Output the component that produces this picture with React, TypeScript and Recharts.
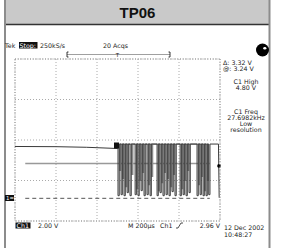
import React from 'react';
import { LineChart, Line, XAxis, YAxis, CartesianGrid, ReferenceLine, ReferenceDot } from 'recharts';

// time in µs (trigger at 0, 200 µs/div), level in divisions (2 V/div)
const xTicks = [-1000, -800, -600, -400, -200, 0, 200, 400, 600, 800, 1000];
const yTicks = [-4, -3, -2, -1, 0, 1, 2, 3, 4];

const highLevel = -0.2;
const groundLevel = -2.88;
const cursorLevel = -1.16;
const cursorStart = -900;
const cursorEnd = 900;
const markerTime = 990;
const markerLevel = -1.28;

const preTimes = [-1000, -600, -300, 0];
const preLevels = [-0.32, -0.33, -0.36, -0.42];

const pulseFalls = [5, 35, 64, 94, 122, 172, 200, 230, 259, 288, 318, 386, 415, 444, 474, 503, 532, 561, 611, 640, 669, 698, 776, 806, 835, 864, 890];
const pulseRises = [17, 47, 76, 106, 134, 184, 212, 242, 271, 300, 330, 398, 427, 456, 486, 515, 544, 573, 623, 652, 681, 710, 788, 818, 847, 876, 902];
const pulseLows = [-2.75, -2.7, -2.75, -2.6, -2.75, -2.7, -2.75, -2.5, -2.75, -2.7, -2.75, -2.75, -2.6, -2.75, -2.7, -2.75, -2.55, -2.75, -2.75, -2.7, -2.75, -2.6, -2.75, -2.7, -2.75, -2.75, -2.7];

const ghostFalls = [20, 50, 80, 140, 188, 218, 246, 305, 335, 400, 432, 460, 490, 520, 548, 628, 656, 686, 792, 822, 850, 878];
const ghostRises = [30, 60, 90, 150, 196, 226, 254, 313, 343, 408, 440, 468, 498, 528, 556, 636, 664, 694, 800, 830, 858, 886];
const ghostLows = [-1.5, -1.9, -2.3, -1.7, -2.4, -2.0, -1.6, -2.2, -1.8, -2.5, -2.1, -1.6, -1.9, -2.3, -1.7, -2.4, -2.0, -1.5, -2.2, -1.8, -2.5, -2.0];

const tailTimes = [902, 985, 992];
const tailLevels = [highLevel, highLevel, -2.85];

const steps = (falls: number[], rises: number[], lows: number[]) =>
  falls.flatMap((f, i) => [
    { t: f, v: highLevel },
    { t: f, v: lows[i] },
    { t: rises[i], v: lows[i] },
    { t: rises[i], v: highLevel },
  ]);

const trace = [
  ...preTimes.map((t, i) => ({ t, v: preLevels[i] })),
  ...steps(pulseFalls, pulseRises, pulseLows),
  ...tailTimes.map((t, i) => ({ t, v: tailLevels[i] })),
];
const ghost = steps(ghostFalls, ghostRises, ghostLows);

const txt = { fontFamily: 'DejaVu Sans', fontSize: 6.3, fill: '#222' };

const Overlay = () => (
  <svg width={288} height={248} style={{ position: 'absolute', left: 0, top: 0, pointerEvents: 'none' }}>
    <rect x={6} y={0} width={263} height={24} fill="#c9c9c9" />
    <line x1={6} x2={269} y1={24.5} y2={24.5} stroke="#333" strokeWidth={1.5} />
    <rect x={4} y={0} width={2} height={248} fill="#8c8c8c" />
    <rect x={268.5} y={0} width={2} height={248} fill="#8c8c8c" />
    <text x={137.5} y={18} textAnchor="middle" fontFamily="Liberation Sans" fontWeight="bold" fontSize={15} fill="#111">TP06</text>

    <text x={5} y={47.5} {...txt}>Tek</text>
    <rect x={19} y={42} width={18.5} height={6.5} fill="#111" />
    <text x={19.5} y={47.5} {...txt} fill="#fff">Stop:</text>
    <text x={40} y={47.5} {...txt}>250kS/s</text>
    <text x={103} y={47.5} {...txt}>20 Acqs</text>

    <line x1={67} x2={170} y1={54.5} y2={54.5} stroke="#888" strokeWidth={0.8} />
    <path d="M68.5 52 H67 V57 H68.5 M168.5 52 H170 V57 H168.5" stroke="#222" fill="none" strokeWidth={0.9} />
    <text x={117.5} y={57} textAnchor="middle" {...txt} fontSize={5.5}>T</text>

    <circle cx={262.5} cy={50} r={6.5} fill="#000" />
    <ellipse cx={264.8} cy={48.3} rx={1.6} ry={1.2} fill="#fff" />

    <rect x={15} y={59} width={205} height={162} fill="none" stroke="#999" strokeDasharray="1 1.5" />

    <rect x={114} y={142.5} width={5} height={6} fill="#111" />
    <rect x={5} y={195} width={9} height={6} fill="#111" />
    <text x={6} y={200.3} {...txt} fontSize={5.5} fill="#fff">1=</text>

    <text x={223} y={65} {...txt}>Δ: 3.32 V</text>
    <text x={223} y={70.5} {...txt}>@: 3.24 V</text>
    <text x={246} y={84} textAnchor="middle" {...txt}>C1 High</text>
    <text x={246} y={90} textAnchor="middle" {...txt}>4.80 V</text>
    <text x={246} y={114} textAnchor="middle" {...txt}>C1 Freq</text>
    <text x={246} y={120} textAnchor="middle" {...txt}>27.6982kHz</text>
    <text x={246} y={126} textAnchor="middle" {...txt}>Low</text>
    <text x={246} y={132} textAnchor="middle" {...txt}>resolution</text>

    <rect x={15.5} y={222.5} width={15} height={6} fill="#111" />
    <text x={16.5} y={227.8} {...txt} fill="#fff">Ch1</text>
    <text x={38} y={228} {...txt}>2.00 V</text>
    <text x={128} y={228} {...txt}>M 200µs</text>
    <text x={160} y={228} {...txt}>Ch1</text>
    <path d="M176 228 H178 L181 223 H183" stroke="#222" fill="none" strokeWidth={0.8} />
    <text x={220} y={228} textAnchor="end" {...txt}>2.96 V</text>
    <text x={224} y={229.5} {...txt}>12 Dec 2002</text>
    <text x={224} y={237} {...txt}>10:48:27</text>
  </svg>
);

export default function App() {
  return (
    <div style={{ position: 'absolute', left: 0, top: 0, width: 288, height: 248, background: '#fff' }}>
      <LineChart width={288} height={248} margin={{ top: 59, right: 68, bottom: 27, left: 15 }}>
        <CartesianGrid stroke="#aaa" strokeDasharray="1 2" />
        <XAxis type="number" dataKey="t" domain={[-1000, 1000]} ticks={xTicks} hide allowDuplicatedCategory={false} />
        <YAxis type="number" domain={[-4, 4]} ticks={yTicks} hide />
        <ReferenceLine segment={[{ x: cursorStart, y: cursorLevel }, { x: cursorEnd, y: cursorLevel }]} stroke="#999" strokeWidth={1.5} />
        <ReferenceLine segment={[{ x: cursorStart, y: groundLevel }, { x: cursorEnd, y: groundLevel }]} stroke="#555" strokeDasharray="4 3" />
        <Line data={ghost} dataKey="v" stroke="#8a8a8a" strokeWidth={1.2} dot={false} isAnimationActive={false} />
        <Line data={trace} dataKey="v" stroke="#3a3a3a" strokeWidth={1} dot={false} isAnimationActive={false} />
        <ReferenceDot x={markerTime} y={markerLevel} r={1.8} fill="#000" stroke="none" />
      </LineChart>
      <Overlay />
    </div>
  );
}
